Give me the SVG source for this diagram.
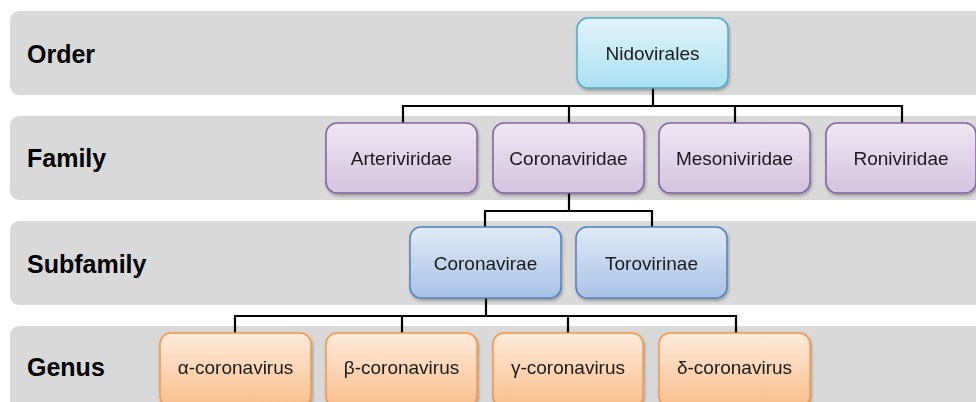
<svg xmlns="http://www.w3.org/2000/svg" width="976" height="402" viewBox="0 0 976 402">
<defs>
<linearGradient id="gCyan" x1="0" y1="0" x2="0" y2="1"><stop offset="0" stop-color="#e3f4fa"/><stop offset="1" stop-color="#a9e0f1"/></linearGradient>
<linearGradient id="gPurple" x1="0" y1="0" x2="0" y2="1"><stop offset="0" stop-color="#eee7f2"/><stop offset="1" stop-color="#d3c3df"/></linearGradient>
<linearGradient id="gBlue" x1="0" y1="0" x2="0" y2="1"><stop offset="0" stop-color="#e0eaf7"/><stop offset="1" stop-color="#a8c2e6"/></linearGradient>
<linearGradient id="gOrange" x1="0" y1="0" x2="0" y2="1"><stop offset="0" stop-color="#fdebdc"/><stop offset="1" stop-color="#f9be8c"/></linearGradient>
<filter id="sh" x="-10%" y="-10%" width="130%" height="140%"><feDropShadow dx="1" dy="2" stdDeviation="1.5" flood-color="#000" flood-opacity="0.3"/></filter>
</defs>
<style>
.band{fill:#d9d9d9}
.lvl{font-family:"Liberation Sans",Arial,sans-serif;font-weight:bold;font-size:25px;fill:#000}
.nt{font-family:"Liberation Sans",Arial,sans-serif;font-size:19px;fill:#1a1a1a;text-anchor:middle}
.cyan{fill:url(#gCyan);stroke:#4bacc6;stroke-width:1.5}
.purple{fill:url(#gPurple);stroke:#8064a2;stroke-width:1.5}
.blue{fill:url(#gBlue);stroke:#4f81bd;stroke-width:1.5}
.orange{fill:url(#gOrange);stroke:#f79646;stroke-width:1.5}
.conn{fill:none;stroke:#000;stroke-width:2.2}
</style>
<rect width="976" height="402" fill="#fff"/>
<g id="bands">
<rect class="band" x="10" y="11" width="980" height="84" rx="9"/>
<rect class="band" x="10" y="116" width="980" height="84" rx="9"/>
<rect class="band" x="10" y="221" width="980" height="84" rx="9"/>
<rect class="band" x="10" y="326" width="980" height="100" rx="9"/>
<text class="lvl" x="27" y="63">Order</text>
<text class="lvl" x="27" y="167">Family</text>
<text class="lvl" x="27" y="273">Subfamily</text>
<text class="lvl" x="27" y="376">Genus</text>
</g>
<g id="connectors">
<path class="conn" d="M653 88V106M403 106H902M403 105V123M569 105V123M735 105V123M902 105V123"/>
<path class="conn" d="M569 193V211M485 211H652M485 210V227M652 210V227"/>
<path class="conn" d="M486 298V316M235 316H736M235 315V333M402 315V333M568 315V333M736 315V333"/>
</g>
<g id="nidovirales" filter="url(#sh)"><rect class="cyan" x="577" y="18" width="151" height="70" rx="11"/><text class="nt" x="652.5" y="60">Nidovirales</text></g>
<g id="arteriviridae" filter="url(#sh)"><rect class="purple" x="326" y="123" width="151" height="70" rx="11"/><text class="nt" x="401.5" y="165">Arteriviridae</text></g>
<g id="coronaviridae" filter="url(#sh)"><rect class="purple" x="493" y="123" width="151" height="70" rx="11"/><text class="nt" x="568.5" y="165">Coronaviridae</text></g>
<g id="mesoniviridae" filter="url(#sh)"><rect class="purple" x="659" y="123" width="151" height="70" rx="11"/><text class="nt" x="734.5" y="165">Mesoniviridae</text></g>
<g id="roniviridae" filter="url(#sh)"><rect class="purple" x="826" y="123" width="150" height="70" rx="11"/><text class="nt" x="901" y="165">Roniviridae</text></g>
<g id="coronavirae" filter="url(#sh)"><rect class="blue" x="410" y="227" width="151" height="71" rx="11"/><text class="nt" x="485.5" y="270">Coronavirae</text></g>
<g id="torovirinae" filter="url(#sh)"><rect class="blue" x="576" y="227" width="151" height="71" rx="11"/><text class="nt" x="651.5" y="270">Torovirinae</text></g>
<g id="alpha" filter="url(#sh)"><rect class="orange" x="160" y="333" width="151" height="74" rx="11"/><text class="nt" x="235.5" y="374">α-coronavirus</text></g>
<g id="beta" filter="url(#sh)"><rect class="orange" x="326" y="333" width="151" height="74" rx="11"/><text class="nt" x="401.5" y="374">β-coronavirus</text></g>
<g id="gamma" filter="url(#sh)"><rect class="orange" x="493" y="333" width="150" height="74" rx="11"/><text class="nt" x="568" y="374">γ-coronavirus</text></g>
<g id="delta" filter="url(#sh)"><rect class="orange" x="659" y="333" width="151" height="74" rx="11"/><text class="nt" x="734.5" y="374">δ-coronavirus</text></g>
</svg>
